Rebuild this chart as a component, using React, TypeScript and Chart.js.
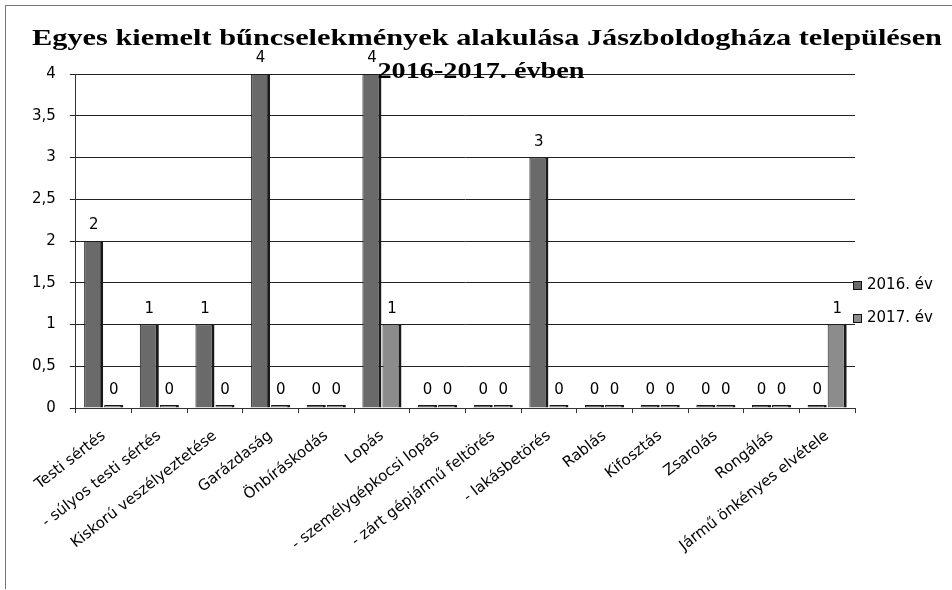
import React, { useEffect, useRef } from "react";
import { Chart, registerables } from "chart.js";

Chart.register(...registerables);

const titleLines = [
  "Egyes kiemelt bűncselekmények alakulása Jászboldogháza településen",
  "2016-2017. évben",
];
const categories = [
  "Testi sértés",
  "- súlyos testi sértés",
  "Kiskorú veszélyeztetése",
  "Garázdaság",
  "Önbíráskodás",
  "Lopás",
  "- személygépkocsi lopás",
  "- zárt gépjármű feltörés",
  "- lakásbetörés",
  "Rablás",
  "Kifosztás",
  "Zsarolás",
  "Rongálás",
  "Jármű önkényes elvétele",
];
const seriesNames = ["2016. év", "2017. év"];
const values2016 = [2, 1, 1, 4, 0, 4, 0, 0, 3, 0, 0, 0, 0, 0];
const values2017 = [0, 0, 0, 0, 0, 1, 0, 0, 0, 0, 0, 0, 0, 1];
const yMin = 0;
const yMax = 4;
const yStep = 0.5;

const FONT = "'DejaVu Sans', 'Open Sans', Arial, sans-serif";
const fmt = (v: number) => String(v).replace(".", ",");

const titlePlugin = {
  id: "customTitle",
  afterDraw(chart: any) {
    const ctx = chart.ctx;
    ctx.save();
    ctx.fillStyle = "#000";
    ctx.font = "bold 23px 'Liberation Serif', 'Times New Roman', serif";
    ctx.textAlign = "center";
    ctx.textBaseline = "alphabetic";
    const w1 = ctx.measureText(titleLines[0]).width;
    ctx.save();
    ctx.translate(487, 45);
    ctx.scale(910 / w1, 1);
    ctx.fillText(titleLines[0], 0, 0);
    ctx.restore();
    const w2 = ctx.measureText(titleLines[1]).width;
    ctx.save();
    ctx.translate(481, 78);
    ctx.scale(207 / w2, 1);
    ctx.fillText(titleLines[1], 0, 0);
    ctx.restore();
    ctx.restore();
  },
};

const labelPlugin = {
  id: "valueLabels",
  afterDatasetsDraw(chart: any) {
    const ctx = chart.ctx;
    ctx.save();
    ctx.fillStyle = "#000";
    ctx.font = "15px " + FONT;
    ctx.textAlign = "center";
    ctx.textBaseline = "bottom";
    chart.data.datasets.forEach((ds: any, i: number) => {
      const meta = chart.getDatasetMeta(i);
      meta.data.forEach((el: any, j: number) => {
        const v = ds.data[j];
        ctx.fillText(fmt(v), el.x, el.y - 8);
      });
    });
    ctx.restore();
  },
};

const legendPlugin = {
  id: "customLegend",
  afterDraw(chart: any) {
    const ctx = chart.ctx;
    ctx.save();
    ctx.font = "15px " + FONT;
    ctx.textBaseline = "middle";
    ctx.textAlign = "left";
    const x = chart.chartArea.right - 2;
    chart.data.datasets.forEach((ds: any, i: number) => {
      const y = 285 + i * 33;
      ctx.fillStyle = ds.backgroundColor;
      ctx.fillRect(x, y - 4, 9, 9);
      ctx.strokeStyle = "#111";
      ctx.lineWidth = 1;
      ctx.strokeRect(x + 0.5, y - 3.5, 8, 8);
      ctx.fillStyle = "#000";
      ctx.fillText(ds.label, x + 14, y);
    });
    ctx.restore();
  },
};

function App() {
  const ref = useRef<HTMLCanvasElement | null>(null);
  useEffect(() => {
    if (!ref.current) return;
    const chart = new Chart(ref.current, {
      type: "bar",
      data: {
        labels: categories,
        datasets: [
          {
            label: seriesNames[0],
            data: values2016,
            backgroundColor: "#6a6a6a",
            borderColor: "#1a1a1a",
            borderWidth: { left: 1, right: 3, top: 1, bottom: 0 } as any,
            minBarLength: 3,
          },
          {
            label: seriesNames[1],
            data: values2017,
            backgroundColor: "#8c8c8c",
            borderColor: "#1a1a1a",
            borderWidth: { left: 1, right: 3, top: 1, bottom: 0 } as any,
            minBarLength: 3,
          },
        ],
      },
      options: {
        animation: false,
        responsive: false,
        maintainAspectRatio: false,
        layout: { padding: { top: 74, right: 97, left: 18, bottom: 21 } },
        plugins: {
          legend: { display: false },
          title: { display: false },
          tooltip: { enabled: false },
        },
        datasets: {
          bar: { categoryPercentage: 0.72, barPercentage: 0.95 },
        },
        scales: {
          x: {
            grid: {
              display: true,
              drawOnChartArea: false,
              offset: true,
              color: "#333",
              tickLength: 5,
            },
            border: { display: true, color: "#333" },
            ticks: {
              color: "#000",
              minRotation: 38,
              maxRotation: 38,
              autoSkip: false,
              padding: 14,
              font: { family: FONT, size: 15 },
            },
          },
          y: {
            min: yMin,
            max: yMax,
            grid: { color: "#222", lineWidth: 1, tickLength: 6 },
            border: { display: true, color: "#333" },
            ticks: {
              stepSize: yStep,
              color: "#000",
              padding: 14,
              font: { family: FONT, size: 15 },
              callback: (v: any) => fmt(Number(v)),
            },
          },
        },
      },
      plugins: [titlePlugin, labelPlugin, legendPlugin],
    });
    return () => chart.destroy();
  }, []);
  return (
    <div
      style={{
        position: "absolute",
        left: 0,
        top: 0,
        width: 952,
        height: 590,
        background: "#fff",
      }}
    >
      <div
        style={{
          position: "absolute",
          left: 5,
          top: 5,
          width: 947,
          height: 583,
          borderLeft: "1px solid #777",
          borderTop: "1px solid #777",
        }}
      />
      <canvas
        ref={ref}
        width={952}
        height={590}
        style={{ position: "absolute", left: 0, top: 0, width: 952, height: 590 }}
      />
    </div>
  );
}

export default App;
